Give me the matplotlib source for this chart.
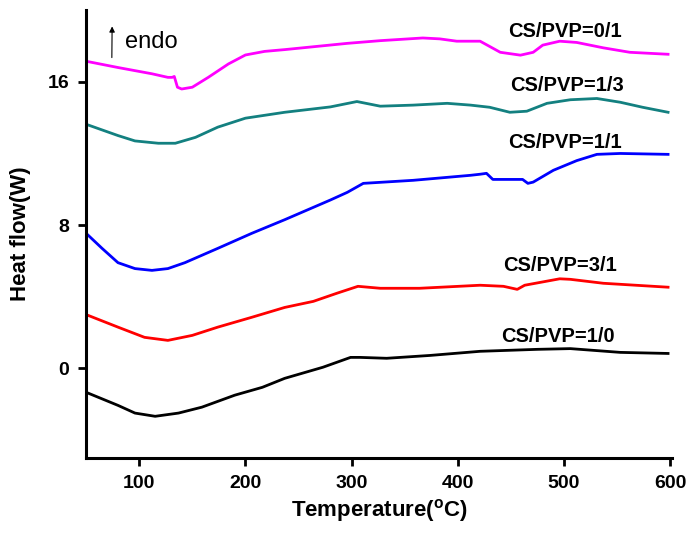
import matplotlib.pyplot as plt

plt.rcParams['font.family'] = ['Liberation Sans', 'DejaVu Sans']

# DSC curves, heat flow vs temperature for each CS/PVP blend ratio
t_01 = [50, 80, 112, 127, 131, 133, 136, 140, 150, 165, 184, 200, 218, 237, 296, 327, 367, 383, 399, 421, 440, 459, 471, 480, 496, 512, 537, 562, 598]
hf_01 = [17.15, 16.8, 16.45, 16.25, 16.25, 16.3, 15.7, 15.6, 15.7, 16.25, 17.0, 17.5, 17.7, 17.8, 18.15, 18.3, 18.45, 18.4, 18.27, 18.27, 17.65, 17.49, 17.65, 18.05, 18.27, 18.2, 17.9, 17.65, 17.54]

t_13 = [50, 80, 96, 118, 134, 153, 174, 200, 237, 280, 305, 327, 358, 390, 412, 430, 449, 465, 484, 506, 531, 553, 574, 598]
hf_13 = [13.63, 13.0, 12.7, 12.57, 12.57, 12.9, 13.47, 13.97, 14.3, 14.6, 14.9, 14.64, 14.7, 14.8, 14.7, 14.58, 14.3, 14.36, 14.8, 15.0, 15.07, 14.86, 14.58, 14.3]

t_11 = [50, 65, 80, 96, 112, 127, 143, 174, 206, 237, 280, 296, 311, 358, 412, 421, 427, 433, 461, 466, 471, 490, 512, 531, 553, 598]
hf_11 = [7.54, 6.7, 5.9, 5.57, 5.47, 5.57, 5.9, 6.7, 7.54, 8.3, 9.4, 9.83, 10.33, 10.5, 10.78, 10.84, 10.89, 10.55, 10.55, 10.33, 10.4, 11.06, 11.6, 11.95, 12.0, 11.95]

t_31 = [50, 80, 105, 127, 150, 174, 206, 237, 264, 286, 306, 327, 364, 421, 443, 456, 463, 496, 506, 537, 598]
hf_31 = [3.0, 2.3, 1.73, 1.56, 1.84, 2.3, 2.85, 3.4, 3.74, 4.19, 4.58, 4.47, 4.47, 4.64, 4.58, 4.41, 4.64, 5.0, 4.97, 4.75, 4.53]

t_10 = [50, 80, 96, 115, 137, 159, 190, 216, 237, 273, 299, 308, 333, 374, 421, 475, 506, 553, 598]
hf_10 = [-1.34, -2.07, -2.5, -2.68, -2.5, -2.17, -1.5, -1.06, -0.56, 0.06, 0.61, 0.61, 0.56, 0.72, 0.95, 1.06, 1.1, 0.89, 0.83]

series = [
    (t_01, hf_01, '#ff00ff', 'CS/PVP=0/1', 500.5, 18.8),
    (t_13, hf_13, '#138080', 'CS/PVP=1/3', 502.5, 15.78),
    (t_11, hf_11, '#0000ff', 'CS/PVP=1/1', 500.5, 12.6),
    (t_31, hf_31, '#ff0000', 'CS/PVP=3/1', 496, 5.73),
    (t_10, hf_10, '#000000', 'CS/PVP=1/0', 494, 1.76),
]

fig = plt.figure(figsize=(6.89, 5.38), dpi=100)
ax = fig.add_axes([0.125, 0.149, 0.85, 0.832])

for t, hf, c, name, lx, ly in series:
    ax.plot(t, hf, color=c, lw=2.0, solid_joinstyle='round')
    ax.text(lx, ly, name, ha='center', va='center', fontsize=14.5, fontweight='bold')

# endothermic direction marker
ax.annotate('', xy=(74.5, 19.25), xytext=(74.2, 17.2),
            arrowprops=dict(arrowstyle='-|>', color='black', lw=0.8, mutation_scale=8))
ax.text(87, 18.2, 'endo', fontsize=17, va='center', ha='left')

ax.set_xlim(50, 601.5)
ax.set_ylim(-5, 20)
ax.set_xticks([100, 200, 300, 400, 500, 600])
ax.set_yticks([0, 8, 16])

for s in ['top', 'right']:
    ax.spines[s].set_visible(False)
for s in ['left', 'bottom']:
    ax.spines[s].set_linewidth(2.2)

ax.tick_params(direction='out', length=6, width=2, labelsize=14, pad=6)
for lab in ax.get_xticklabels() + ax.get_yticklabels():
    lab.set_fontweight('bold')

ax.set_xlabel('Temperature($^\\mathregular{o}$C)', fontsize=16, fontweight='bold')
ax.set_ylabel('Heat flow(W)', fontsize=16, fontweight='bold', labelpad=12)

plt.savefig('out.png', dpi=100)
